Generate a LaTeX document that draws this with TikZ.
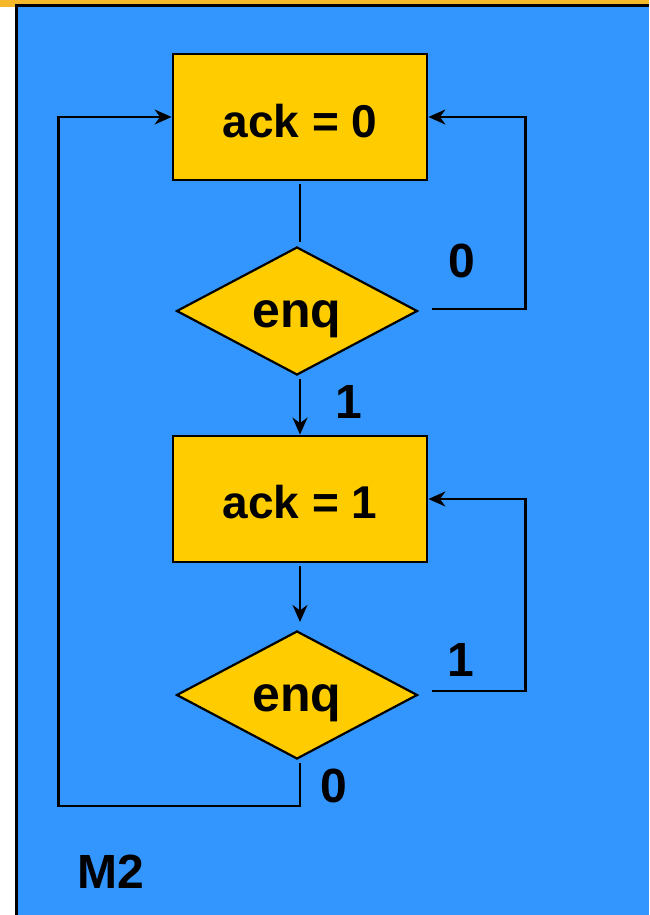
\documentclass[tikz,border=0pt]{standalone}
\usepackage{fontspec}
\setmainfont{Liberation Sans}
\usetikzlibrary{arrows.meta,shapes.geometric,calc}
\definecolor{panelblue}{HTML}{3396FF}
\definecolor{boxyellow}{HTML}{FFCC00}
\definecolor{stripgold}{HTML}{F5B82A}
% text sitting on a fixed baseline below the node centre
\newcommand{\lowered}[2]{\raisebox{-#1pt}[0pt][0pt]{#2}}
\begin{document}
\begin{tikzpicture}[x=1pt,y=-1pt,
  statebox/.style={rectangle,draw=black,line width=2.8pt,fill=boxyellow,
    minimum width=254pt,minimum height=126pt,inner sep=0pt,
    font=\fontsize{46}{46}\selectfont\bfseries},
  testbox/.style={diamond,draw=black,line width=2.2pt,fill=boxyellow,
    minimum width=241pt,minimum height=128pt,aspect=1.88,inner sep=0pt,
    font=\fontsize{50}{50}\selectfont\bfseries},
  conn/.style={draw=black,line width=2.4pt},
  arr/.style={conn,-{Stealth[length=17pt,width=15pt,inset=5.5pt]}},
  lbl/.style={font=\fontsize{48}{48}\selectfont\bfseries,inner sep=0pt}]
\useasboundingbox (0,0) rectangle (649,915);
% page background, gold strip and blue panel
\fill[white] (0,0) rectangle (649,915);
\fill[stripgold] (0,0) rectangle (649,7);
\fill[panelblue] (16,6) rectangle (649,915);
\draw[line width=3pt] (16,915) -- (16,6) -- (649,6);

% flowchart nodes
\node[statebox] (box1) at (300,117) {\lowered{21}{ack = 0}};
\node[testbox]  (d1)   at (297,311) {\lowered{16}{enq}};
\node[statebox] (box2) at (300,499) {\lowered{19}{ack = 1}};
\node[testbox]  (d2)   at (297,695) {\lowered{16}{enq}};

% connectors
\draw[conn] ($(box1.south)+(0,3)$) -- ($(box1.south |- d1.north)+(0,-4)$);
\draw[arr] ($(d1.south -| box2.north)+(0,3)$) -- (box2.north);
\draw[arr] ($(box2.south)+(0,3)$) -- ($(box2.south |- d2.north)+(0,-8)$);
\draw[arr] ($(d1.east)+(13,-2)$) -| ($(box1.east)+(97,0)$) -- (box1.east);
\draw[arr] ($(d2.east)+(13,-4)$) -| ($(box2.east)+(97,0)$) -- (box2.east);
\draw[arr] ($(d2.south -| box2.south)+(0,3)$) -- ++(0,43)
  -| ($(box1.west)+(-113,0)$) -- (box1.west);

% branch labels
\node[lbl] (l0a) at (462,261) {0};
\node[lbl] (l1a) at (349,402) {1};
\node[lbl] (l1b) at (461,660) {1};
\node[lbl] (l0b) at (334,786) {0};
\node[lbl] (m2)  at (111,872) {M2};
\end{tikzpicture}
\end{document}
